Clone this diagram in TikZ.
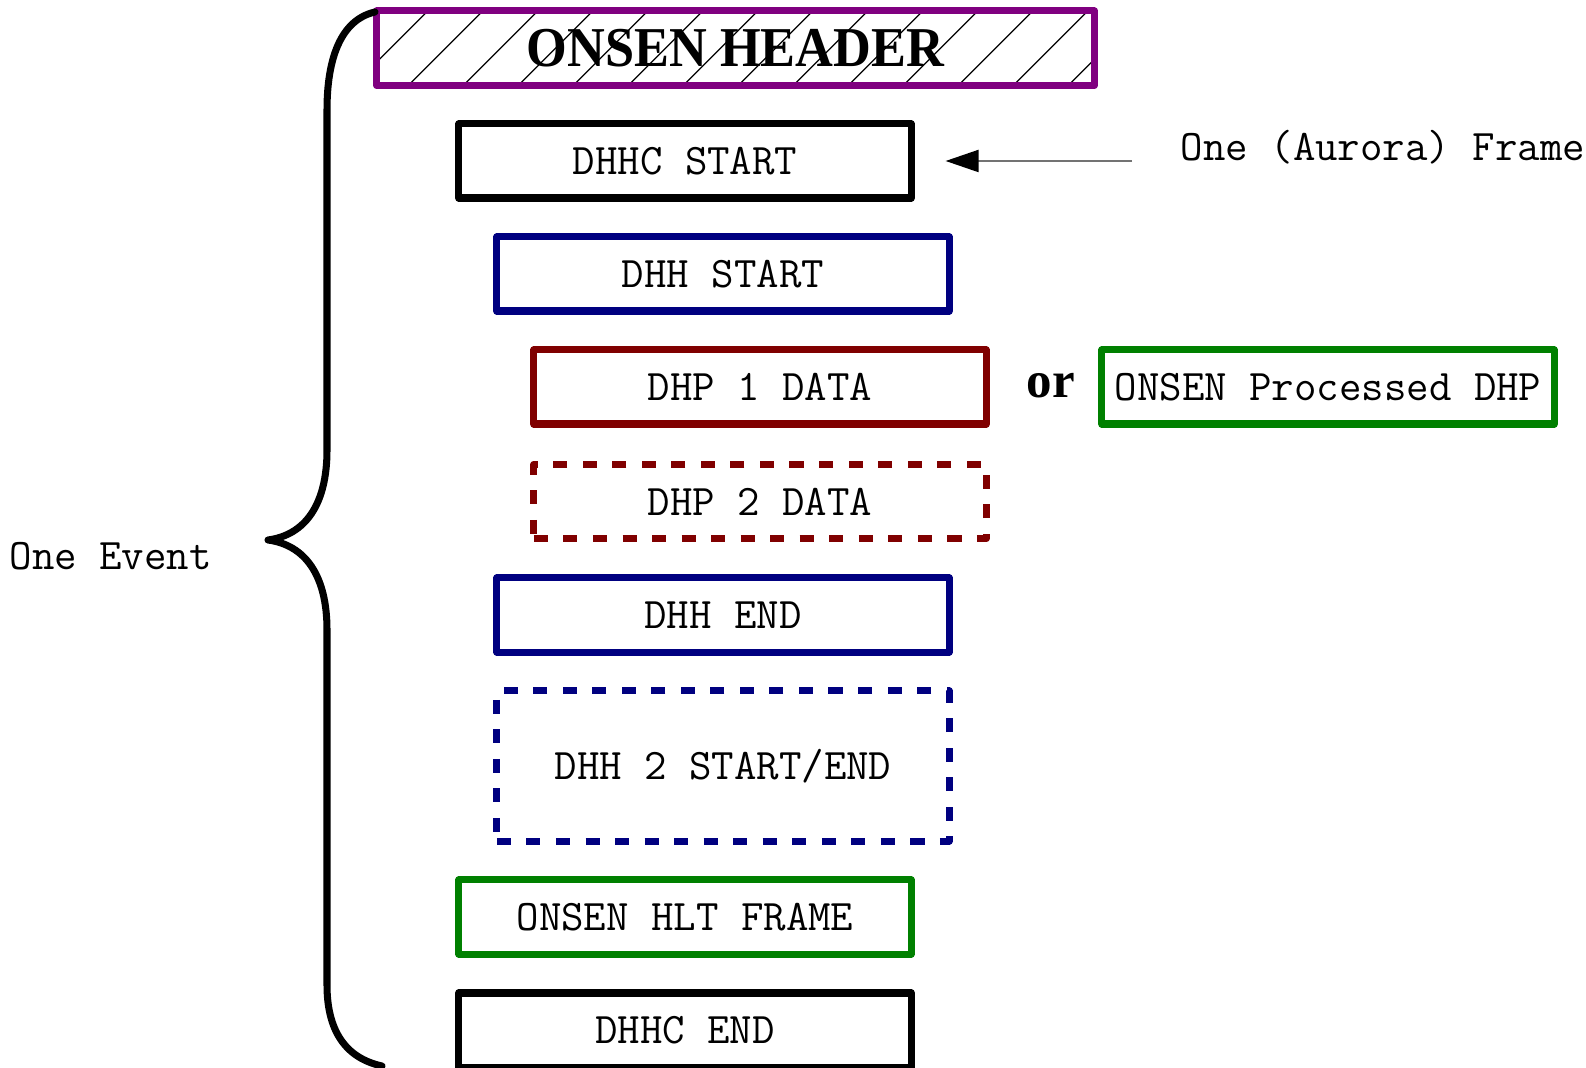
\documentclass[tikz,border=0pt]{standalone}
\usepackage{fontspec}
\setmainfont{Liberation Serif}
\newfontfamily\hdrfont[FakeStretch=0.93]{Liberation Serif}
\usetikzlibrary{arrows.meta}
\definecolor{hdrpurple}{HTML}{800080}
\definecolor{dhhnavy}{HTML}{000080}
\definecolor{dhpred}{HTML}{800000}
\definecolor{onsgreen}{HTML}{008000}

\begin{document}
\begin{tikzpicture}[x=0.01cm,y=-0.01cm,
  bx/.style={draw,line width=2pt,line join=round,minimum width=4.52cm,minimum height=0.74cm,inner sep=0pt,font=\ttfamily\fontsize{12.4}{14}\selectfont},
  dbx/.style={bx,dash pattern=on 4pt off 4.4pt},
  lbl/.style={font=\ttfamily\fontsize{12.4}{14}\selectfont,inner sep=0pt},
  ar/.style={-{Triangle[length=9.4pt,width=6.3pt,color=black]},line width=0.5pt,black!55}]
  \useasboundingbox (0,0) rectangle (1586,1068);
  % hatching of the header
  \begin{scope}
    \clip (377,11) rectangle (1094,85.5);
    \foreach \k in {-2,...,13}
      \draw[line width=0.35pt] ({493.7+55*\k-85.5},85.5) -- ({493.7+55*\k-11},11);
  \end{scope}
  \node[draw=hdrpurple,line width=2pt,line join=round,minimum width=7.17cm,minimum height=0.745cm,inner sep=0pt] (hdr) at (735.5,48.25) {\hdrfont\bfseries\fontsize{16}{18}\selectfont ONSEN HEADER};
  \foreach \nm/\xx/\yy/\col/\lab in {
    dhhcS/685/161/black/DHHC START,
    dhhS/723/274/dhhnavy/DHH START,
    dhpA/760/387/dhpred/DHP 1 DATA,
    dhhE/723/615/dhhnavy/DHH END,
    hlt/685/917/onsgreen/ONSEN HLT FRAME,
    dhhcE/685/1030/black/DHHC END,
    proc/1328/387/onsgreen/ONSEN Processed DHP}
    \node[bx,draw=\col] (\nm) at (\xx,\yy) {\lab};
  \node[dbx,draw=dhpred] (dhpB) at (760,501.5) {DHP 2 DATA};
  \node[dbx,draw=dhhnavy,minimum height=1.5cm] (dhhB) at (723,766) {DHH 2 START/END};
  \node[font=\bfseries\fontsize{14.5}{16}\selectfont,anchor=base,inner sep=0pt] (orw) at (1051,398) {or};
  % labels
  \node[lbl,anchor=west] (evt) at (9,556) {One Event};
  \node[lbl,anchor=west] (frm) at (1180,147) {One (Aurora) Frame};
  \coordinate (frmtail) at (1132,161);
  \draw[ar,shorten >=8.8pt] (frmtail) -- (dhhcS.east);
  % brace
  \draw[line width=2pt,line cap=round,line join=round] (375,12) .. controls (340,20) and (327,60) .. (327,110) -- (327,450)
    .. controls (327,505) and (305,535) .. (268,540) .. controls (305,545) and (327,575) .. (327,630) -- (327,985)
    .. controls (327,1030) and (345,1058) .. (382,1066);
\end{tikzpicture}
\end{document}
